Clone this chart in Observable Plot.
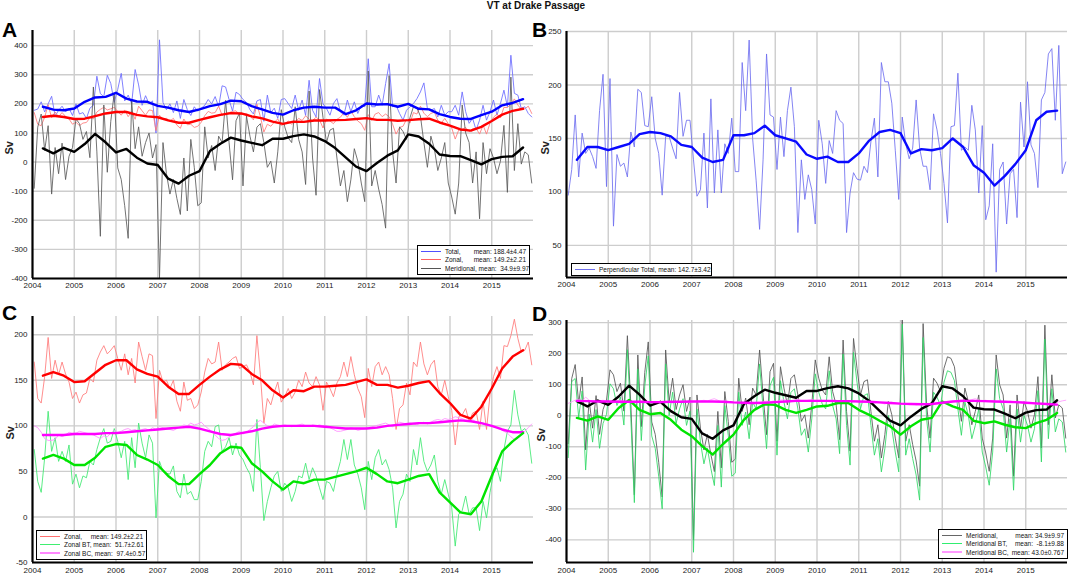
<!DOCTYPE html>
<html><head><meta charset="utf-8">
<script src="https://cdn.jsdelivr.net/npm/d3@7"></script>
<script src="https://cdn.jsdelivr.net/npm/@observablehq/plot@0.6"></script>
<style>
body{margin:0;background:#fff;font-family:"Liberation Sans",Arial,sans-serif;}
#wrap{position:relative;width:1072px;height:575px;overflow:hidden;background:#fff}
.abs{position:absolute}
.title{left:0;top:0;width:1072px;text-align:center;font-weight:bold;font-size:10px;line-height:12px;color:#111}
.letter{font-weight:bold;font-size:21px;line-height:21px;color:#000}
.legend{position:absolute;background:#fff;border:1px solid #000;font-size:6.5px;color:#111;box-sizing:border-box;padding:1px 3px 1px 3px}
.row{display:flex;align-items:center;height:8.5px;white-space:pre}
.sample{width:20px;height:1px;margin-right:4px;flex:none}
.mean{margin-left:auto;text-align:right}
svg{position:absolute}
</style></head>
<body><div id="wrap"></div>
<script>
// ---- data (monthly, Jan 2004 - Dec 2015) ----
const years = [2004,2005,2006,2007,2008,2009,2010,2011,2012,2013,2014,2015];

const total = [178,182,207,172,200,226,158,178,192,172,185,160,
 200,165,170,150,185,195,295,235,225,298,270,205,
 250,305,210,230,200,318,265,195,228,200,210,100,
 420,205,180,200,170,210,150,215,180,160,190,175,
 185,195,215,200,225,190,262,258,215,175,240,232,
 215,205,180,165,210,215,140,230,170,185,150,215,
 218,201,184,230,178,213,160,281,178,155,287,200,
 184,161,201,218,173,161,213,173,207,167,195,190,
 355,190,190,230,195,270,338,190,195,167,144,178,
 190,201,218,241,272,184,178,184,155,195,161,173,
 173,195,161,241,173,133,150,110,144,195,144,173,
 213,161,201,247,190,367,236,230,184,190,167,155];

const zonal = [170,130,125,154,197,152,172,156,170,157,148,130,
 137,125,134,136,152,148,172,181,188,179,183,188,
 174,161,179,156,174,147,192,176,161,179,177,108,
 161,148,150,141,150,127,116,148,128,130,119,123,
 137,159,174,168,170,192,161,167,170,174,176,163,
 165,167,159,145,199,156,103,130,123,137,148,126,
 132,141,130,137,150,143,159,147,143,154,145,117,
 148,141,132,147,154,170,154,176,156,141,132,109,
 163,143,165,170,156,165,156,130,96,119,123,147,
 134,170,165,192,168,156,167,172,143,134,150,132,
 117,79,110,112,119,105,114,116,96,127,96,134,
 154,165,152,188,187,199,217,196,181,183,192,167];

const meridional = [-90,120,165,40,125,-110,50,-40,65,-60,20,50,
 148,132,78,105,15,258,35,-255,196,-35,140,238,
 -20,-60,-150,-262,212,46,121,20,67,100,14,60,
 -400,67,-40,-110,-60,-125,-180,14,-168,78,-18,-150,
 -140,121,14,57,-29,89,67,212,67,-61,142,169,
 -82,158,89,35,120,132,67,-18,3,-72,35,180,
 121,83,67,190,78,35,-77,244,14,-114,249,153,
 67,110,116,14,-82,-29,-136,-61,46,3,-72,-136,
 313,-82,-29,-93,-146,-227,297,35,-72,121,105,78,
 153,190,185,158,67,-18,89,46,-29,14,67,-72,
 -120,-179,-72,196,100,67,-72,35,-195,67,-40,46,
 14,-40,3,126,-104,292,-29,132,-7,35,25,-72];

const perpendicular = [97,121,172,114,155,136,141,133,122,176,210,105,
 206,68,135,124,127,114,156,142,196,193,162,161,
 189,150,136,97,152,152,141,131,193,152,167,167,
 130,96,102,155,85,187,99,158,99,145,136,169,
 119,119,221,176,242,150,111,65,130,229,172,170,
 121,170,133,176,198,161,62,130,93,116,102,70,
 167,145,108,148,136,176,167,164,62,99,118,112,
 111,124,118,147,169,114,221,203,203,183,139,93,
 170,145,131,141,186,141,124,124,102,173,158,136,
 108,71,161,162,211,139,142,139,181,158,99,162,
 74,87,145,25,121,128,70,117,121,76,184,142,
 203,144,136,104,186,193,229,234,167,237,117,128];

const zonalBT = [74,39,27,65,116,72,87,61,72,61,79,36,
 47,32,45,43,61,57,74,87,97,81,83,97,
 83,65,83,41,87,54,103,81,65,90,81,-1,
 61,50,48,47,56,28,21,47,25,28,19,19,
 39,72,83,77,99,101,72,77,87,68,81,68,
 63,54,47,28,107,54,-4,17,32,45,50,28,
 37,32,17,28,45,43,59,41,54,45,32,19,
 39,37,28,47,61,85,63,85,57,47,32,8,
 61,41,65,74,57,63,52,32,-12,17,25,47,
 39,74,57,87,61,50,57,68,39,25,41,25,
 10,-32,3,7,23,3,10,10,-15,17,-1,27,
 48,54,39,74,94,101,139,112,94,97,90,59];

const zonalBC = [100,98,93,86,84,84,85,90,88,90,93,92,
 92,94,93,92,91,90,88,86,89,88,92,95,
 93,94,96,97,95,96,94,96,97,95,98,96,
 99,98,97,96,95,97,99,101,100,103,101,102,
 104,100,97,94,90,86,84,85,88,90,92,94,
 91,93,96,99,104,106,103,100,99,102,101,100,
 101,100,99,100,101,102,100,99,101,100,101,100,
 100,98,96,94,94,95,96,98,97,95,96,97,
 98,99,100,101,102,103,101,99,102,104,103,102,
 103,102,101,103,104,102,104,106,107,106,108,107,
 108,110,109,108,106,105,107,104,102,103,101,100,
 99,98,96,94,92,88,85,86,90,94,98,102];

const meridionalBT = [-135,110,120,-5,80,-175,5,-85,20,-105,-25,5,
 103,87,33,60,-30,213,-10,-280,151,-80,95,193,
 -65,-105,-195,-300,167,1,76,-25,22,55,-31,15,
 -440,22,-85,-155,-105,-170,-225,-31,-230,33,-63,-195,
 -185,76,-31,12,-74,44,22,167,22,-106,97,124,
 -127,113,44,-10,75,87,22,-63,-42,-117,-10,135,
 76,38,22,145,33,-10,-122,199,-31,-159,204,108,
 22,65,71,-31,-127,-74,-181,-106,1,-42,-117,-181,
 295,-127,-74,-138,-191,-272,252,-10,-117,76,60,33,
 108,145,140,113,22,-63,44,1,-74,-31,22,-117,
 -165,-224,-117,151,55,22,-117,-10,-240,22,-85,1,
 -31,-85,-42,81,-149,247,-74,87,-52,-10,-20,-117];

const meridionalBC = [40,45,50,52,48,60,50,46,44,48,50,47,
 44,42,48,50,46,43,45,40,42,48,45,44,
 46,44,42,45,47,43,41,44,46,48,44,43,
 45,46,48,50,47,52,55,50,45,48,46,44,
 42,45,40,43,38,40,44,42,45,47,44,48,
 46,50,52,48,45,50,53,49,47,50,52,48,
 50,48,46,49,51,47,45,48,50,46,44,47,
 45,43,46,42,40,44,41,38,42,44,40,39,
 38,40,36,38,35,37,40,38,36,39,42,40,
 44,46,42,48,50,52,50,48,52,55,50,48,
 50,47,49,45,48,46,44,47,45,43,46,44,
 42,40,38,36,40,37,35,38,40,45,48,50];

// ---- smoothed (quarterly, 2004.25 - 2015.75) ----
const totalSmooth = [190,180,178, 184,207,222,224, 238,218,208,207, 193,187,178,172, 181,192,199,211, 209,192,181,169, 163,178,187,190, 187,187,165,178, 201,198,199,190, 200,183,181,165, 155,149,148,161, 173,195,203,216];
const zonalSmooth = [155,159,155, 148,149,158,167, 172,172,162,157, 154,143,135,135, 145,154,162,168, 167,157,150,139, 131,139,138,143, 143,144,145,148, 151,145,145,142, 144,147,149,136, 125,112,108,121, 141,163,176,183];
const meridionalSmooth = [47,30,49, 35,62,97,68, 33,45,15,-5, -10,-57,-74,-47, -31,38,63,84, 74,66,58,80, 80,89,95,88, 72,48,16,-16, -31,-3,22,40, 95,88,63,26, 21,20,7,-8, 10,18,20,50];
const perpendicularSmooth = [130,142,142, 139,142,145,154, 156,155,152,144, 142,132,128,130, 153,153,155,162, 153,150,147,135, 131,133,128,128, 136,148,156,158, 155,136,140,139, 141,150,142,125, 118,106,115,126, 139,167,175,176];
const zonalBTSmooth = [64,68,64, 57,57,65,77, 80,79,68,63, 57,45,36,36, 47,57,70,77, 76,59,50,39, 30,39,37,41, 41,44,47,50, 54,47,39,37, 41,45,47,27, 16,5,3,17, 45,72,83,92];
const zonalBCSmooth = [90,90,90, 91,91,91,92, 92,93,94,95, 96,97,98,99, 97,94,91,90, 92,94,97,99, 100,100,100,100, 99,98,97,97, 97,98,100,101, 102,103,103,104, 105,106,105,103, 100,96,93,93];
const meridionalBTSmooth = [-7,-16,-2, -13,25,51,19, 5,9,-13,-45, -66,-98,-125,-91, -61,-13,19,37, 35,19,9,19, 30,32,41,41, 19,3,-16,-34, -61,-34,-13,-7, 46,30,19,-16, -24,-18,-29,-37, -40,-24,-13,9];
const meridionalBCSmooth = [48,47,46, 46,45,45,45, 44,44,45,45, 46,46,46,45, 43,42,41,42, 44,46,48,48, 48,48,47,47, 46,45,43,41, 39,38,37,38, 42,46,48,48, 47,46,45,44, 42,40,38,36];

// ---- helpers ----
const thinRows = v => v.map((y,i) => ({x: 2004 + (i + 0.5) / 12, y}));
const smoothRows = v => v.map((y,j) => ({x: 2004.25 + 0.25 * j, y}));
const FONT = '"Liberation Sans", Arial, sans-serif';
const GRID = "#cdcdcd";
const wrap = document.getElementById("wrap");

function panel(cfg) {
  const marks = [
    Plot.gridX(years.slice(1), {stroke: GRID, strokeOpacity: 1, strokeWidth: 1.4}),
    Plot.gridY(cfg.yticks, {stroke: GRID, strokeOpacity: 1, strokeWidth: 1.4})
  ];
  for (const s of cfg.thin) marks.push(Plot.line(thinRows(s.v), {x: "x", y: "y", stroke: s.c, strokeWidth: s.w || 0.85, clip: true}));
  for (const s of cfg.thick) marks.push(Plot.line(smoothRows(s.v), {x: "x", y: "y", stroke: s.c, strokeWidth: 2.4, clip: true}));
  marks.push(Plot.ruleX([2004], {stroke: "#000", strokeWidth: 2.2}));
  marks.push(Plot.ruleY([cfg.ydom[0]], {stroke: "#000", strokeWidth: 2.2}));
  marks.push(Plot.axisX({ticks: years, tickFormat: d => String(d), tickSize: 0, tickPadding: cfg.tpx, fontSize: 8, label: null}));
  marks.push(Plot.axisY({ticks: cfg.yticks, tickFormat: d => String(d), tickSize: 0, tickPadding: 5, fontSize: 8, label: null}));
  marks.push(Plot.text(["Sv"], {text: d => d, frameAnchor: "left", dx: cfg.sx, rotate: -90, fontWeight: "bold", fontSize: 11}));
  const svg = Plot.plot({
    width: cfg.w, height: cfg.h,
    marginLeft: cfg.ml, marginRight: cfg.mr, marginTop: cfg.mt, marginBottom: cfg.mb,
    x: {domain: [2004, 2016]},
    y: {domain: cfg.ydom},
    style: {fontFamily: FONT, background: "transparent", color: "#222"},
    marks
  });
  svg.style.left = cfg.left + "px";
  svg.style.top = cfg.top + "px";
  wrap.appendChild(svg);
}

function addText(cls, txt, left, top) {
  const d = document.createElement("div");
  d.className = "abs " + cls;
  d.textContent = txt;
  if (left != null) d.style.left = left + "px";
  d.style.top = top + "px";
  wrap.appendChild(d);
}

function legend(left, top, width, rows) {
  const box = document.createElement("div");
  box.className = "legend";
  box.style.left = left + "px"; box.style.top = top + "px"; box.style.width = width + "px";
  for (const r of rows) {
    const row = document.createElement("div"); row.className = "row";
    const s = document.createElement("span"); s.className = "sample"; s.style.background = r.c;
    if (r.lw) s.style.height = r.lw + "px";
    const n = document.createElement("span"); n.textContent = r.name;
    const m = document.createElement("span"); m.className = "mean"; m.textContent = r.mean;
    row.append(s, n, m); box.appendChild(row);
  }
  wrap.appendChild(box);
}

// ---- panels ----
panel({left: 0, top: 20, w: 540, h: 280, ml: 32, mr: 7, mt: 10, mb: 22, tpx: 4, sx: -23,
  ydom: [-400, 452], yticks: [-400,-300,-200,-100,0,100,200,300,400],
  thin: [{v: total, c: "#6a6aff"}, {v: zonal, c: "#ff7a7a"}, {v: meridional, c: "#5a5a5a"}],
  thick: [{v: totalSmooth, c: "#0000ff"}, {v: zonalSmooth, c: "#ff0000"}, {v: meridionalSmooth, c: "#000000"}]});

panel({left: 530, top: 20, w: 542, h: 280, ml: 36, mr: 5, mt: 11, mb: 23, tpx: 4, sx: -21,
  ydom: [20, 250], yticks: [50,100,150,200,250],
  thin: [{v: perpendicular, c: "#6f6ff0"}],
  thick: [{v: perpendicularSmooth, c: "#0a0aff"}]});

panel({left: 0, top: 300, w: 540, h: 275, ml: 32, mr: 7, mt: 16, mb: 13, tpx: 5, sx: -22,
  ydom: [-50, 220], yticks: [-50,0,50,100,150,200],
  thin: [{v: zonal, c: "#ff7a7a"}, {v: zonalBT, c: "#3ee870"}, {v: zonalBC, c: "#ff8cff"}],
  thick: [{v: zonalSmooth, c: "#ff0000"}, {v: zonalBCSmooth, c: "#ff00ff"}, {v: zonalBTSmooth, c: "#00e400"}]});

panel({left: 530, top: 300, w: 542, h: 275, ml: 36, mr: 5, mt: 20, mb: 13, tpx: 5, sx: -25,
  ydom: [-473, 307], yticks: [-400,-300,-200,-100,0,100,200,300],
  thin: [{v: meridional, c: "#555555"}, {v: meridionalBT, c: "#2fd866"}, {v: meridionalBC, c: "#ff99ff"}],
  thick: [{v: meridionalSmooth, c: "#000000"}, {v: meridionalBTSmooth, c: "#00e400"}, {v: meridionalBCSmooth, c: "#ff00ff"}]});

// ---- titles, letters, legends ----
addText("title", "VT at Drake Passage", null, 0);
addText("letter", "A", 2, 19);
addText("letter", "B", 532, 19);
addText("letter", "C", 2, 302);
addText("letter", "D", 532, 303);

legend(417, 245, 113, [
  {c: "#5050ff", name: "Total,", mean: "mean: 188.4±4.47"},
  {c: "#ff6060", name: "Zonal,", mean: "mean: 149.2±2.21"},
  {c: "#555555", name: "Meridional, ", mean: "mean:  34.9±9.97"}]);
legend(571, 263, 141, [
  {c: "#7070ee", name: "Perpendicular Total, mean: 142.7±3.42", mean: ""}]);
legend(36, 530, 111, [
  {c: "#ff7070", name: "Zonal,", mean: "mean: 149.2±2.21"},
  {c: "#40ee70", name: "Zonal BT, ", mean: "mean:  51.7±2.61"},
  {c: "#ff88ff", name: "Zonal BC, ", mean: "mean:  97.4±0.57", lw: 2}]);
legend(938, 529, 130, [
  {c: "#666666", name: "Meridional,", mean: "mean: 34.9±9.97"},
  {c: "#30ee70", name: "Meridional BT, ", mean: "mean:  -8.1±9.88"},
  {c: "#ff99ff", name: "Meridional BC, ", mean: "mean: 43.0±0.767", lw: 2}]);
</script></body></html>
